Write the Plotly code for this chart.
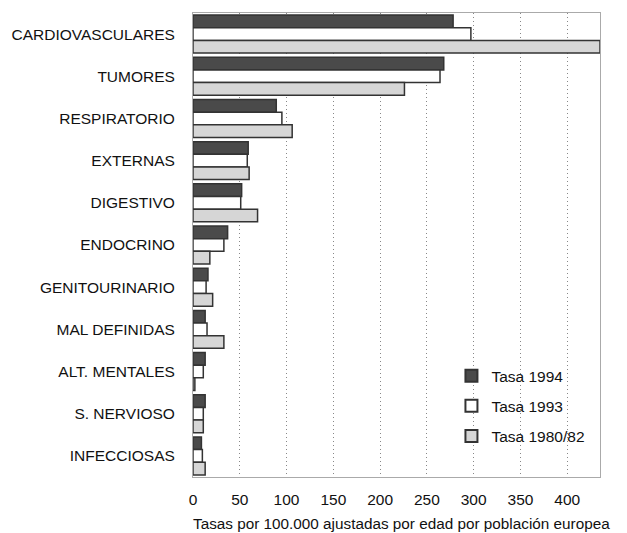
import plotly.graph_objects as go

categories = ["CARDIOVASCULARES", "TUMORES", "RESPIRATORIO", "EXTERNAS", "DIGESTIVO",
              "ENDOCRINO", "GENITOURINARIO", "MAL DEFINIDAS", "ALT. MENTALES",
              "S. NERVIOSO", "INFECCIOSAS"]
tasa_1994 = [278, 268, 89, 59, 52, 37, 16, 13, 13, 13, 9]
tasa_1993 = [297, 264, 95, 58, 51, 33, 14, 15, 11, 11, 10]
tasa_1980_82 = [435, 226, 106, 60, 69, 18, 21, 33, 2, 11, 13]
tick_vals = [0, 50, 100, 150, 200, 250, 300, 350, 400]
x_title = "Tasas por 100.000 ajustadas por edad por población europea"

series = [
    ("Tasa 1994", tasa_1994, "#4a4a4a"),
    ("Tasa 1993", tasa_1993, "#ffffff"),
    ("Tasa 1980/82", tasa_1980_82, "#d6d6d6"),
]

fig = go.Figure()
for name, vals, color in series:
    fig.add_trace(go.Bar(
        y=categories, x=vals, name=name, orientation="h", legendgroup=name,
        marker=dict(color=color, line=dict(color="#333333", width=1.5)),
    ))

fig.add_annotation(text=x_title, xref="paper", yref="paper", x=0.512, y=0,
                   xanchor="center", yanchor="top", yshift=-36, showarrow=False,
                   font=dict(size=15.3))

fig.update_layout(
    width=627, height=533,
    margin=dict(l=185, r=35, t=5, b=64),
    paper_bgcolor="white", plot_bgcolor="white",
    barmode="group", bargap=0.1, bargroupgap=0,
    font=dict(family="Liberation Sans, Arial, sans-serif", size=15.5, color="#111111"),
    showlegend=True,
    legend=dict(x=0.635, y=0.254, xanchor="left", yanchor="top",
                bgcolor="rgba(255,255,255,0)", font=dict(size=15.5),
                itemsizing="constant", tracegroupgap=7, traceorder="grouped"),
    xaxis=dict(range=[0, 435], tickvals=tick_vals, showgrid=True,
               gridcolor="#888888", griddash="1px,3px", gridwidth=1.2, automargin=False,
               zeroline=False, showline=True, linecolor="#aaaaaa", mirror=True,
               tickfont=dict(size=15.5), ticks="", ticklabelstandoff=8),
    yaxis=dict(categoryorder="array", categoryarray=categories, autorange="reversed",
               showline=True, linecolor="#aaaaaa", mirror=True, ticks="", automargin=False,
               tickfont=dict(size=15.5), ticklabelstandoff=14),
)

fig.write_html("out.html")
